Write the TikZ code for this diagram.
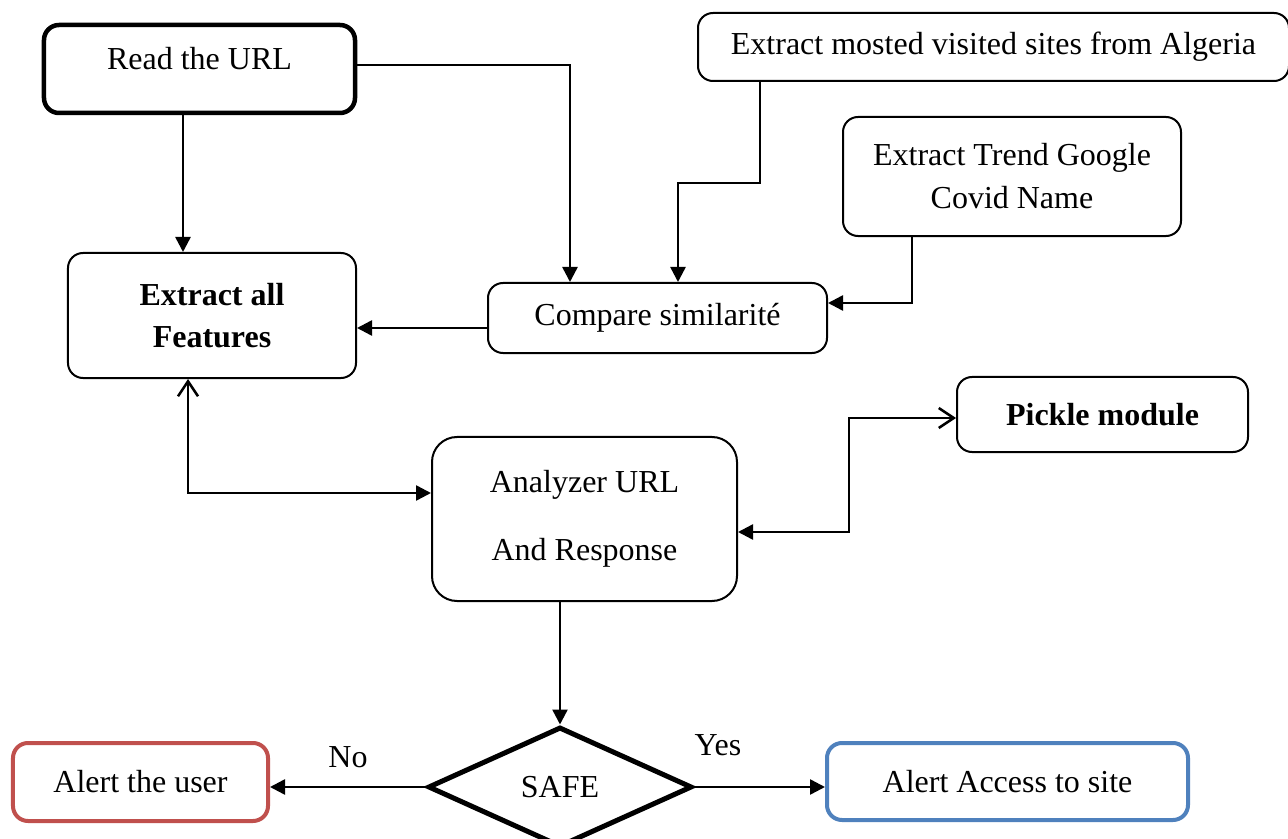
\documentclass[tikz,border=0pt]{standalone}
\usepackage{fontspec}
\setmainfont{Liberation Serif}
\usetikzlibrary{shapes.geometric,arrows.meta}
\definecolor{alertred}{HTML}{C0504D}
\definecolor{alertblue}{HTML}{4F81BD}
\tikzset{
  box/.style     = {rectangle, rounded corners=6pt, draw, line width=0.8pt, align=center, inner sep=2pt, font=\fontsize{12.8}{15}\selectfont},
  cond/.style    = {diamond, draw, line width=2pt, aspect=2.2, inner sep=0, minimum width=105.6pt, minimum height=48pt, font=\fontsize{12.8}{15}\selectfont},
  link/.style    = {line width=1pt, -{Triangle[length=6pt,width=6pt]}},
  opentip/.style = {line width=1pt, {Straight Barb[length=6pt,width=8pt]}-{Triangle[length=6pt,width=6pt]}},
  et/.style      = {font=\fontsize{12.8}{15}\selectfont}
}
\begin{document}
\begin{tikzpicture}[x=0.4pt,y=-0.4pt]
  \useasboundingbox (0,0) rectangle (1288,839);
  % boxes
  \node[box, line width=1.8pt, text depth=8.5pt, minimum width=124.4pt, minimum height=35.2pt] (read) at (199.5,69) {Read the URL};
  \node[box, minimum width=115.2pt, minimum height=50pt] (feat) at (212,315.5) {\bfseries Extract all\\[1.8pt]\bfseries Features};
  \node[box, minimum width=236.4pt, minimum height=27.2pt] (visited) at (993.5,47) {Extract mosted visited sites from Algeria};
  \node[box, minimum width=135.2pt, minimum height=47.6pt] (trend) at (1012,176.5) {Extract Trend Google\\[2.2pt]Covid Name};
  \node[box, minimum width=135.6pt, minimum height=28pt] (compare) at (657.5,318) {Compare similarit\'e};
  \node[box, minimum width=116.4pt, minimum height=30pt] (pickle) at (1102.5,414.5) {\bfseries Pickle module};
  \node[box, rounded corners=10pt, minimum width=122pt, minimum height=65.6pt] (analyzer) at (584.5,519) {Analyzer URL\\[12.2pt]And Response};
  \node[cond] (safe) at (560,787) {SAFE};
  \node[box, draw=alertred, line width=1.6pt, minimum width=102pt, minimum height=31.2pt] (user) at (140.5,782) {Alert the user};
  \node[box, draw=alertblue, line width=1.6pt, minimum width=144.4pt, minimum height=30.8pt] (access) at (1007.5,781.5) {Alert Access to site};
  % labels
  \node[et] (no) at (348,757) {No};
  \node[et] (yes) at (718,745) {Yes};
  % connectors
  \draw[link] ([xshift=-6.6pt]read.south) -- ([xshift=-6.6pt]read.south |- feat.north);
  \draw[link] ([yshift=1.6pt]read.east) -| ([xshift=-35pt]compare.north);
  \draw[link] ([xshift=-93.4pt]visited.south) -- ++(0,101) -| ([xshift=8.2pt]compare.north);
  \draw[link] ([xshift=-40pt]trend.south) |- ([yshift=6pt]compare.east);
  \draw[link] ([yshift=-4pt]compare.west) -- ([yshift=-4pt]compare.west -| feat.east);
  \draw[opentip] ([xshift=-9.6pt]feat.south) |- ([yshift=10.4pt]analyzer.west);
  \draw[line width=1pt, {Triangle[length=6pt,width=6pt]}-{Straight Barb[length=6pt,width=8pt]}] ([yshift=-5.2pt]analyzer.east) -- ++(111,0) |- ([yshift=-1.4pt]pickle.west);
  \draw[link] (analyzer.south -| safe.north) -- (safe.north);
  \draw[link] (safe.west) -- (safe.west -| user.east);
  \draw[link] (safe.east) -- (safe.east -| access.west);
\end{tikzpicture}
\end{document}
